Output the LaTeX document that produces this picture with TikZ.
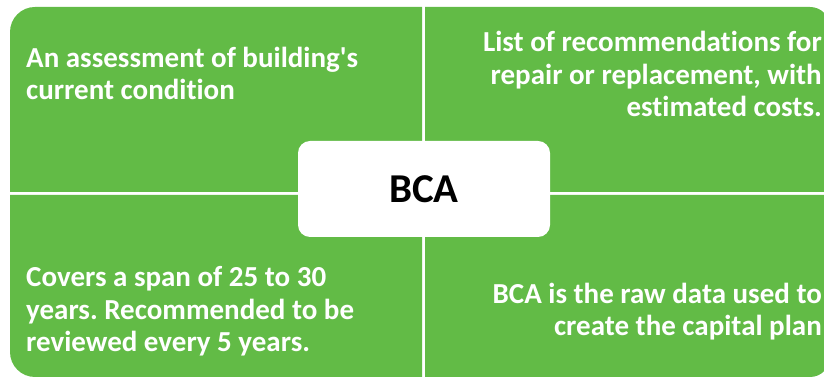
\documentclass[tikz,border=0pt]{standalone}
\usepackage{fontspec}
\setmainfont{Carlito}[Ligatures={TeXOff,NoCommon}]
\definecolor{qgreen}{HTML}{62BB46}
\frenchspacing
\begin{document}
\begin{tikzpicture}[x=1pt,y=1pt,
  quad/.style={fill=qgreen},
  qtext/.style={text=white, font=\bfseries\fontsize{29}{32.8}\selectfont, inner sep=0pt},
  hub/.style={fill=white, rounded corners=12pt, minimum width=252pt, minimum height=96pt, inner sep=0pt, font=\bfseries\fontsize{41}{44}\selectfont, text=black}]
\useasboundingbox (0,0) rectangle (824,377);
% quadrants
\fill[quad] (422,185) -- (10,185) -- (10,345) arc[start angle=180,end angle=90,radius=25] -- (422,370) -- cycle;
\fill[quad] (425,185) -- (425,370) -- (810,370) arc[start angle=90,end angle=0,radius=20] -- (830,185) -- cycle;
\fill[quad] (422,182) -- (10,182) -- (10,25) arc[start angle=180,end angle=270,radius=25] -- (422,0) -- cycle;
\fill[quad] (425,182) -- (830,182) -- (830,20) arc[start angle=0,end angle=-90,radius=20] -- (425,0) -- cycle;
% texts (base anchor = baseline of the last line)
\node[qtext, anchor=base west, align=left] (tl) at (26,277) {An assessment of building's\\current condition};
\node[qtext, anchor=base east, align=right] (tr) at (822,260) {List of recommendations for\\repair or replacement, with\\estimated costs.};
\node[qtext, anchor=base west, align=left] (bl) at (26,25) {Covers a span of 25 to 30\\years. Recommended to be\\reviewed every 5 years.};
\node[qtext, anchor=base east, align=right] (br) at (822,41) {BCA is the raw data used to\\create the capital plan};
\node[hub] (c) at (424,188) {BCA};
\end{tikzpicture}
\end{document}
